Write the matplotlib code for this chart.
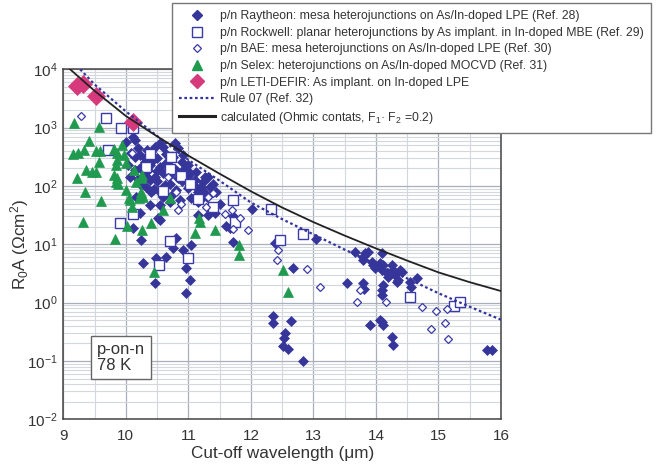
import matplotlib
matplotlib.use("Agg")
import matplotlib.pyplot as plt
from matplotlib.lines import Line2D
from matplotlib.ticker import LogLocator, MultipleLocator, FixedLocator

plt.rcParams['font.family'] = ['Liberation Sans', 'DejaVu Sans']
plt.rcParams['mathtext.fontset'] = 'custom'
plt.rcParams['mathtext.rm'] = 'Liberation Sans'
plt.rcParams['mathtext.it'] = 'Liberation Sans'
plt.rcParams['mathtext.default'] = 'regular'

TXT = '#333333'

# ---------------- data (cut-off wavelength in um, R0A in Ohm cm^2) ----------------
raytheon_pts = [
    (10.01, 574), (10.15, 614), (10.12, 682), (10.09, 363), (10.15, 318), (10.23, 340),
    (10.34, 414), (10.47, 471), (10.55, 539), (10.60, 471), (10.79, 539), (10.76, 318),
    (10.84, 442), (10.92, 340), (10.44, 279), (10.31, 258),
    (10.65, 244), (10.55, 214), (10.39, 229), (10.47, 144), (10.07, 144), (10.25, 104),
    (10.33, 97), (10.41, 80), (10.55, 80), (10.17, 65), (11.03, 165), (11.11, 126),
    (11.24, 118), (11.27, 144), (11.13, 175), (11.32, 144), (11.35, 97), (11.00, 91),
    (11.05, 61), (11.19, 57), (11.27, 75), (11.16, 80), (11.45, 80), (10.71, 154),
    (10.84, 137), (10.95, 203), (10.63, 104), (10.74, 70), (10.87, 57), (10.23, 203),
    (10.04, 229), (10.15, 188), (10.31, 154), (10.39, 126),
    (10.20, 450), (10.40, 380), (10.50, 300), (10.65, 350), (10.70, 280), (10.90, 260),
    (11.00, 230), (10.80, 190), (10.50, 180), (10.30, 300), (10.60, 170), (10.90, 120),
    (11.10, 100), (10.70, 110), (10.50, 120), (10.80, 85), (11.20, 95), (11.40, 110),
    (10.20, 130), (10.35, 190), (11.00, 150), (10.90, 175), (11.30, 65), (11.50, 50),
    (10.60, 65), (10.45, 90),
    (10.55, 47), (10.71, 54), (10.39, 47), (10.55, 26), (10.23, 34), (10.52, 28),
    (11.37, 44), (11.43, 34), (11.16, 54), (11.16, 32), (11.32, 32), (11.61, 21),
    (11.72, 30), (11.75, 23), (11.67, 18.8), (11.71, 11.1), (10.12, 19), (10.25, 11.9),
    (10.81, 12.7), (11.05, 9.7), (10.92, 8.0), (10.76, 8.5), (10.65, 6.1), (10.49, 5.75),
    (10.28, 4.7), (10.97, 3.9), (11.03, 2.44), (10.47, 2.14), (10.97, 1.45), (12.01, 40),
    (12.39, 10.4), (12.68, 3.9), (13.04, 12.2),
    (12.36, 0.59), (12.35, 0.44), (12.64, 0.48), (12.55, 0.30), (12.53, 0.244),
    (12.51, 0.18), (12.60, 0.158), (12.83, 0.10),
    (13.53, 2.20), (13.67, 7.5), (13.80, 6.1), (13.83, 7.0), (13.88, 7.5), (13.79, 5.4),
    (13.93, 5.0), (13.96, 4.4), (13.99, 3.9), (14.09, 7.0), (14.07, 4.7), (14.12, 4.4),
    (14.09, 3.6), (14.17, 3.2), (14.20, 2.78), (14.25, 4.4), (14.28, 3.6), (14.31, 2.97),
    (14.33, 2.29), (14.36, 2.44), (14.39, 3.6), (14.41, 3.4), (14.55, 2.29), (14.56, 1.87),
    (14.65, 2.61), (13.79, 2.20), (13.81, 1.69), (14.12, 2.0), (14.09, 1.64), (14.09, 1.35),
    (13.91, 0.41), (14.07, 0.50), (14.09, 0.47), (14.12, 0.41), (14.25, 0.26), (14.28, 0.19),
    (15.77, 0.154), (15.85, 0.154),
]
rockwell_pts = [
    (9.69, 1450), (9.92, 975), (10.11, 975), (9.72, 414), (10.38, 353), (10.32, 214),
    (10.73, 310), (10.71, 193), (10.88, 148), (11.02, 107), (10.60, 83), (11.16, 60),
    (9.91, 23), (10.11, 33), (10.71, 11.5), (10.53, 4.5), (10.99, 5.75), (11.40, 44),
    (11.72, 57), (11.75, 24), (12.32, 40), (12.83, 15), (12.47, 11.9), (14.54, 1.23),
    (15.25, 0.87), (15.35, 1.04),
]
bae_pts = [
    (9.29, 1580), (10.10, 367), (10.68, 144), (10.81, 80), (10.84, 38), (10.89, 49),
    (11.32, 65), (11.40, 75), (11.29, 44), (11.59, 33), (11.69, 39), (11.72, 18.3),
    (11.83, 27.7), (11.96, 17.6), (12.44, 8.0), (12.42, 5.3), (12.89, 3.7), (13.11, 1.83),
    (13.74, 1.64), (13.69, 1.01), (14.16, 1.01), (14.73, 0.83), (14.96, 0.73), (15.14, 0.77),
    (15.11, 0.45), (14.88, 0.36), (15.16, 0.24),
]
selex_pts = [
    (9.17, 1200), (9.57, 1030), (9.41, 590), (9.16, 353), (9.24, 367), (9.33, 414),
    (9.52, 397), (9.59, 397), (9.57, 258), (9.36, 188), (9.46, 173), (9.52, 173),
    (9.22, 137), (9.35, 79), (9.60, 55), (9.32, 24), (9.83, 12.3), (9.81, 430),
    (9.86, 367), (9.86, 279), (9.84, 229), (9.97, 340), (10.00, 248), (9.81, 154),
    (9.86, 137), (9.84, 117), (9.88, 108), (10.13, 188), (10.26, 154), (10.24, 137),
    (10.16, 117), (10.00, 85), (10.24, 79), (10.05, 62), (10.21, 62), (10.07, 57),
    (10.10, 44), (10.28, 65), (10.02, 21), (10.26, 17.6), (10.40, 23), (10.45, 3.35),
    (10.71, 62), (10.60, 39), (11.17, 28), (11.19, 24), (11.11, 15.6), (11.43, 17.6),
    (11.81, 9.7), (11.81, 6.6), (12.52, 3.6), (12.60, 1.52), (9.94, 504),
]
leti_pts = [(9.22, 5150), (9.31, 5600), (9.52, 3540), (10.11, 1260)]

rule07_x = [9.27, 9.5, 10.0, 10.5, 11.0, 11.5, 12.0, 12.5, 13.0, 13.5, 14.0, 14.5, 15.0, 15.5, 16.0]
rule07_y = [10000, 5500, 1900, 720, 280, 123, 52, 27, 14.8, 8.1, 4.6, 2.6, 1.45, 0.85, 0.51]

calc_x = [9.1, 9.5, 10.0, 10.5, 11.0, 11.5, 12.0, 12.5, 13.0, 13.5, 14.0, 14.5, 15.0, 15.5, 16.0]
calc_y = [10200, 4270, 1585, 708, 331, 162, 81, 42.7, 24, 14.1, 8.5, 5.25, 3.3, 2.24, 1.58]

x_ticks = [9, 10, 11, 12, 13, 14, 15, 16]

labels = [
    'p/n Raytheon: mesa heterojunctions on As/In-doped LPE (Ref. 28)',
    'p/n Rockwell: planar heterojunctions by As implant. in In-doped MBE (Ref. 29)',
    'p/n BAE: mesa heterojunctions on As/In-doped LPE (Ref. 30)',
    'p/n Selex: heterojunctions on As/In-doped MOCVD (Ref. 31)',
    'p/n LETI-DEFIR: As implant. on In-doped LPE',
    'Rule 07 (Ref. 32)',
    'calculated (Ohmic contats, F$_1$· F$_2$ =0.2)',
]

# ---------------- styles ----------------
C_RAY = '#36369a'
C_ROCK = '#3a3aa8'
C_BAE = '#3a3aa8'
C_SEL = '#1f9a4e'
C_LETI = '#d63a7c'
C_RULE = '#33339a'

fig = plt.figure(figsize=(6.69, 4.67), dpi=100)
ax = fig.add_axes([63.3 / 669, 1 - 419.3 / 467, (501 - 63.3) / 669, (419.3 - 69.3) / 467])
ax.set_yscale('log')
ax.set_xlim(9, 16)
ax.set_ylim(1e-2, 1e4)

ax.xaxis.set_major_locator(FixedLocator(x_ticks))
ax.xaxis.set_minor_locator(MultipleLocator(0.5))
ax.yaxis.set_major_locator(LogLocator(base=10, numticks=20))
ax.yaxis.set_minor_locator(LogLocator(base=10, subs=range(2, 10), numticks=20))

ax.grid(True, which='major', color='#a9afbb', lw=0.9, zorder=0)
ax.grid(True, which='minor', color='#d3d7de', lw=0.8, zorder=0)
ax.set_axisbelow(True)
ax.tick_params(which='both', length=0)
ax.tick_params(axis='x', pad=7, labelsize=11, labelcolor=TXT)
ax.tick_params(axis='y', pad=4, labelsize=11, labelcolor=TXT)
for s in ax.spines.values():
    s.set_color('#444444')
    s.set_linewidth(1.1)

def xy(pts):
    return [p[0] for p in pts], [p[1] for p in pts]

rx, ry = xy(raytheon_pts)
kx, ky = xy(rockwell_pts)
bx, by = xy(bae_pts)
sx, sy = xy(selex_pts)
lx, ly = xy(leti_pts)

ax.plot(rx, ry, ls='none', marker='D', ms=5.3, mfc=C_RAY, mec=C_RAY, mew=0.5, zorder=3)
ax.plot(kx, ky, ls='none', marker='s', ms=7.0, mfc='white', mec=C_ROCK, mew=1.0, zorder=4)
ax.plot(bx, by, ls='none', marker='D', ms=4.3, mfc='white', mec=C_BAE, mew=0.9, zorder=5)
ax.plot(sx, sy, ls='none', marker='^', ms=7.5, mfc=C_SEL, mec=C_SEL, mew=0.5, zorder=6)
ax.plot(lx, ly, ls='none', marker='D', ms=9.5, mfc=C_LETI, mec=C_LETI, mew=0.5, zorder=7)
ax.plot(rule07_x, rule07_y, ls=(0, (1.2, 1.2)), color=C_RULE, lw=1.6, zorder=8)
ax.plot(calc_x, calc_y, ls='-', color='#222222', lw=1.3, zorder=8)

ax.set_xlabel('Cut-off wavelength (μm)', fontsize=12.3, color=TXT, labelpad=2)
ax.set_ylabel('R$_0$A (Ωcm$^2$)', fontsize=12.3, color=TXT, labelpad=-3)

ax.text(0.077, 0.222, 'p-on-n\n78 K', transform=ax.transAxes, fontsize=12, color=TXT,
        va='top', ha='left', linespacing=1.1, zorder=9,
        bbox=dict(boxstyle='square,pad=0.35', fc='white', ec='#666666', lw=1.0))

handles = [
    Line2D([], [], ls='none', marker='D', ms=5.3, mfc=C_RAY, mec=C_RAY),
    Line2D([], [], ls='none', marker='s', ms=7.0, mfc='white', mec=C_ROCK, mew=1.0),
    Line2D([], [], ls='none', marker='D', ms=4.3, mfc='white', mec=C_BAE, mew=0.9),
    Line2D([], [], ls='none', marker='^', ms=7.5, mfc=C_SEL, mec=C_SEL),
    Line2D([], [], ls='none', marker='D', ms=7.5, mfc=C_LETI, mec=C_LETI),
    Line2D([], [], ls=(0, (1.2, 1.2)), color=C_RULE, lw=1.6),
    Line2D([], [], ls='-', color='#222222', lw=2.2),
]
leg = fig.legend(handles, labels, loc='upper left', bbox_to_anchor=(172 / 669, 1 - 3 / 467),
                 frameon=True, fancybox=False, framealpha=1, edgecolor='#777777',
                 fontsize=8.85, handlelength=2.9, handletextpad=0.4, borderpad=0.6,
                 labelspacing=0.37, borderaxespad=0, numpoints=1)
leg.get_frame().set_linewidth(1.0)
for t in leg.get_texts():
    t.set_color(TXT)
leg.set_zorder(20)

fig.savefig('out.png', dpi=100)
